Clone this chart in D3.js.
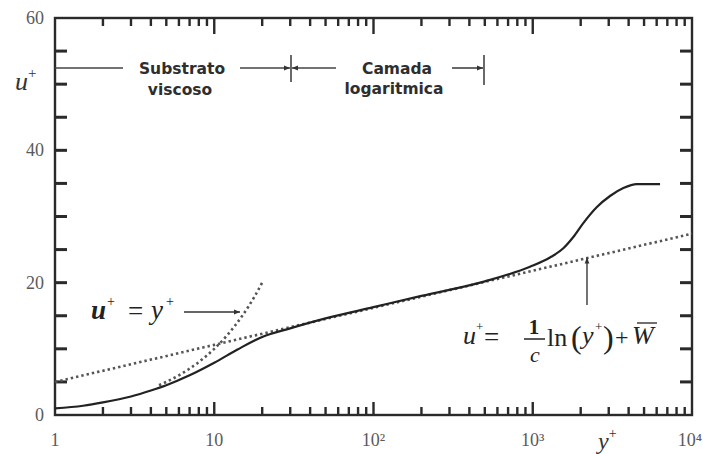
<!DOCTYPE html>
<html>
<head>
<meta charset="utf-8">
<script src="https://cdn.jsdelivr.net/npm/d3@7"></script>
<style>
  html, body { margin: 0; padding: 0; background: #fff; }
  svg { display: block; }
</style>
</head>
<body>
<svg id="chart" width="707" height="454"></svg>
<script>
// ---- data ----
const profileYPlus = [1, 1.5, 2, 3, 4, 5, 7, 10, 14, 20, 30, 50, 100, 200, 500, 961, 1283, 1556, 1798, 2077, 2520, 3057, 3707, 4496, 6300];
const profileUPlus = [1.0, 1.4, 1.9, 2.8, 3.7, 4.5, 6.0, 7.9, 9.9, 11.8, 13.1, 14.6, 16.3, 18.0, 20.2, 22.4, 23.8, 25.2, 26.9, 29.0, 31.4, 33.1, 34.3, 34.9, 34.9];
const viscousYPlus = [4.5, 5, 6, 8, 10, 12, 15, 18, 20];
const viscousUPlus = [4.5, 5, 6, 8, 10, 12, 15, 18, 20];
const logLawYPlus = [1, 10, 100, 1000, 10000];
const logLawUPlus = [5.0, 10.6, 16.2, 21.8, 27.4];
const xTickValues = [1, 10, 100, 1000, 10000];
const xTickLabels = ["1", "10", "10²", "10³", "10⁴"];
const xMinorTicks = [2, 3, 4, 5, 6, 7, 8, 9, 10, 20, 30, 40, 50, 60, 70, 80, 90, 100, 200, 300, 400, 500, 600, 700, 800, 900, 1000, 2000, 3000, 4000, 5000, 6000, 7000, 8000, 9000];
const yTickValues = [0, 20, 40, 60];
const yTickLabels = ["0", "20", "40", "60"];
const yMinorTicks = [5, 10, 15, 20, 25, 30, 35, 40, 45, 50, 55];

// ---- layout ----
const L = 55, R = 692, T = 18, B = 415;
const svg = d3.select("#chart");
const x = d3.scaleLog().domain([1, 10000]).range([L, R]);
const y = d3.scaleLinear().domain([0, 60]).range([B, T]);

const axisColor = "#2a2a2a";
const labelColor = "#5a5a5a";
const serif = "Liberation Serif, serif";

// defs: arrowhead
const defs = svg.append("defs");
defs.append("marker").attr("id", "arr").attr("viewBox", "0 0 10 10")
  .attr("refX", 10).attr("refY", 5).attr("markerWidth", 7).attr("markerHeight", 6)
  .attr("orient", "auto-start-reverse").attr("markerUnits", "userSpaceOnUse")
  .append("path").attr("d", "M0,1 L10,5 L0,9 Z").attr("fill", "#333");

// frame
svg.append("rect").attr("x", L).attr("y", T).attr("width", R - L).attr("height", B - T)
  .attr("fill", "none").attr("stroke", axisColor).attr("stroke-width", 2.4);

// ---- ticks (inward) ----
const isMajor = d => xTickValues.includes(d);
const tickG = svg.append("g");
tickG.selectAll("rect.bt").data(xMinorTicks).join("rect").attr("class", "bt")
  .attr("x", d => x(d) - 1.2).attr("width", 2.4)
  .attr("y", d => B - (isMajor(d) ? 13 : 8)).attr("height", d => (isMajor(d) ? 13 : 8))
  .attr("fill", axisColor);
tickG.selectAll("rect.tt").data(xMinorTicks).join("rect").attr("class", "tt")
  .attr("x", d => x(d) - 1.2).attr("width", 2.4)
  .attr("y", T).attr("height", d => (isMajor(d) ? 16 : 8))
  .attr("fill", axisColor);
tickG.selectAll("rect.lt").data(yMinorTicks).join("rect").attr("class", "lt")
  .attr("x", L).attr("width", 12)
  .attr("y", d => y(d) - 1.5).attr("height", 3)
  .attr("fill", axisColor);
tickG.selectAll("rect.rt").data(yMinorTicks).join("rect").attr("class", "rt")
  .attr("x", R - 12).attr("width", 12)
  .attr("y", d => y(d) - 1.5).attr("height", 3)
  .attr("fill", axisColor);

// tick labels
svg.append("g").selectAll("text").data(yTickValues).join("text")
  .attr("x", 44).attr("y", d => y(d) + 6).attr("text-anchor", "end")
  .attr("font-family", serif).attr("font-size", 18).attr("fill", labelColor)
  .text((d, i) => yTickLabels[i]);
svg.append("g").selectAll("text").data(xTickValues).join("text")
  .attr("x", d => x(d) + (d === 10000 ? -2 : 0)).attr("y", 446).attr("text-anchor", "middle")
  .attr("font-family", serif).attr("font-size", 18).attr("fill", labelColor)
  .text((d, i) => xTickLabels[i]);

// axis titles
const uLab = svg.append("text").attr("x", 15).attr("y", 90)
  .attr("font-family", serif).attr("font-style", "italic")
  .attr("font-size", 26).attr("fill", "#333");
uLab.append("tspan").text("u");
uLab.append("tspan").attr("dy", -12).attr("font-size", 15).attr("font-style", "normal").text("+");

const yLab = svg.append("text").attr("x", 598).attr("y", 449)
  .attr("font-family", serif).attr("font-style", "italic")
  .attr("font-size", 24).attr("fill", "#333");
yLab.append("tspan").text("y");
yLab.append("tspan").attr("dy", -11).attr("font-size", 14).attr("font-style", "normal").text("+");

// ---- curves ----
const curveGen = d3.line().x(d => x(d[0])).y(d => y(d[1])).curve(d3.curveMonotoneX);

svg.append("path").datum(logLawYPlus.map((v, i) => [v, logLawUPlus[i]]))
  .attr("d", d3.line().x(d => x(d[0])).y(d => y(d[1])))
  .attr("fill", "none").attr("stroke", "#555").attr("stroke-width", 2.6)
  .attr("stroke-dasharray", "2.4,3");

svg.append("path").datum(viscousYPlus.map((v, i) => [v, viscousUPlus[i]]))
  .attr("d", curveGen)
  .attr("fill", "none").attr("stroke", "#555").attr("stroke-width", 2.6)
  .attr("stroke-dasharray", "2.4,3");

svg.append("path").datum(profileYPlus.map((v, i) => [v, profileUPlus[i]]))
  .attr("d", curveGen)
  .attr("fill", "none").attr("stroke", "#222").attr("stroke-width", 2.2);

// ---- top annotations ----
const annY = 68;
const ann = svg.append("g").attr("stroke", "#444").attr("stroke-width", 1.6);
ann.append("line").attr("x1", L).attr("x2", 123).attr("y1", annY).attr("y2", annY);
ann.append("line").attr("x1", 240).attr("x2", 290).attr("y1", annY).attr("y2", annY).attr("marker-end", "url(#arr)");
ann.append("line").attr("x1", 336).attr("x2", 292).attr("y1", annY).attr("y2", annY).attr("marker-end", "url(#arr)");
ann.append("line").attr("x1", 291).attr("x2", 291).attr("y1", 55).attr("y2", 82);
ann.append("line").attr("x1", 452).attr("x2", 483).attr("y1", annY).attr("y2", annY).attr("marker-end", "url(#arr)");
ann.append("line").attr("x1", 484).attr("x2", 484).attr("y1", 55).attr("y2", 85);

const annText = [
  { t: "Substrato", x: 182, y: 74 },
  { t: "viscoso", x: 180, y: 95 },
  { t: "Camada", x: 397, y: 74 },
  { t: "logaritmica", x: 394, y: 94 }
];
svg.append("g").selectAll("text").data(annText).join("text")
  .attr("x", d => d.x).attr("y", d => d.y).attr("text-anchor", "middle")
  .attr("font-family", "DejaVu Sans, sans-serif").attr("font-weight", "bold")
  .attr("font-size", 15.5).attr("fill", "#2e2e2e").text(d => d.t);

// ---- equation u+ = y+ ----
const eqA = svg.append("g").attr("font-family", serif).attr("fill", "#222");
function piece(gr, txt, px, py, size, opts = {}) {
  const t = gr.append("text").attr("x", px).attr("y", py).attr("font-size", size).text(txt);
  if (opts.italic) t.attr("font-style", "italic");
  if (opts.bold) t.attr("font-weight", "bold");
  if (opts.anchor) t.attr("text-anchor", opts.anchor);
  return t;
}
piece(eqA, "u", 91, 319, 27, { italic: true, bold: true });
piece(eqA, "+", 107, 306, 14);
piece(eqA, "=", 128, 320, 27);
piece(eqA, "y", 151, 319, 27, { italic: true });
piece(eqA, "+", 166, 306, 14);
svg.append("line").attr("x1", 184).attr("x2", 240).attr("y1", 312).attr("y2", 312)
  .attr("stroke", "#333").attr("stroke-width", 1.6).attr("marker-end", "url(#arr)");

// ---- equation u+ = 1/c ln(y+) + W ----
const eqB = svg.append("g").attr("font-family", serif).attr("fill", "#222");
piece(eqB, "u", 463, 344, 26, { italic: true });
piece(eqB, "+", 476, 331, 13);
piece(eqB, "=", 484, 346, 27);
piece(eqB, "1", 534, 334, 21, { anchor: "middle", bold: true });
eqB.append("line").attr("x1", 524).attr("x2", 545).attr("y1", 339).attr("y2", 339)
  .attr("stroke", "#222").attr("stroke-width", 1.5);
piece(eqB, "c", 535, 362, 22, { italic: true, anchor: "middle" });
piece(eqB, "ln", 547, 346, 26);
piece(eqB, "(", 571, 348, 32);
piece(eqB, "y", 582, 344, 26, { italic: true });
piece(eqB, "+", 595, 331, 13);
piece(eqB, ")", 603, 348, 32);
piece(eqB, "+", 615, 345, 24);
piece(eqB, "W", 632, 344, 26, { italic: true });
eqB.append("line").attr("x1", 637).attr("x2", 657).attr("y1", 323).attr("y2", 323)
  .attr("stroke", "#222").attr("stroke-width", 1.3);

// vertical arrow to log-law line
svg.append("line").attr("x1", 587).attr("x2", 587).attr("y1", 305).attr("y2", y(23.8))
  .attr("stroke", "#444").attr("stroke-width", 1.5).attr("marker-end", "url(#arr)");
</script>
</body>
</html>
